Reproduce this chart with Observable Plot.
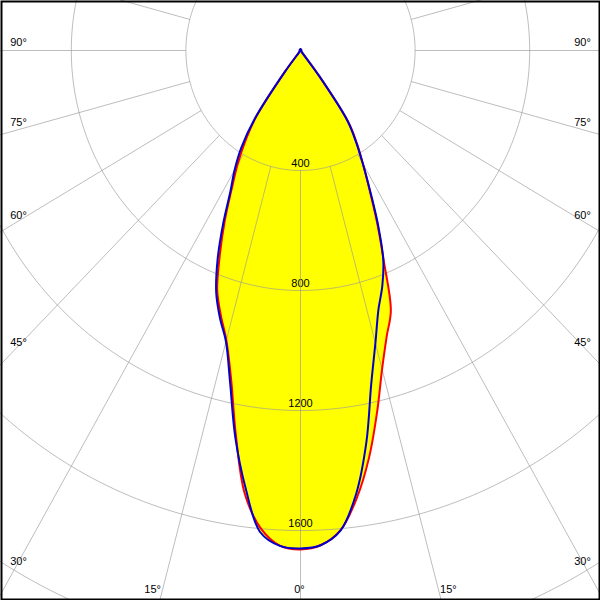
<!DOCTYPE html>
<html><head><meta charset="utf-8">
<script src="https://cdn.jsdelivr.net/npm/d3@7"></script>
<script src="https://cdn.jsdelivr.net/npm/@observablehq/plot@0.6"></script>
<style>body{margin:0;background:#fff} #chart svg{display:block;overflow:hidden}</style>
</head><body><div id="chart"></div>
<script>
// Polar angles (degrees from nadir) and luminous intensities (cd)
const gammas = [0,2.5,5,7.5,10,12.5,15,17.5,20,22.5,25,27.5,30,32.5,35,37.5,40,45,60,90,120,150,180];
const redRight  = [1663,1650,1605,1505,1378,1235,1100,1000,922,760,632,520,435,365,290,100,8,4,3,3,3,4,5];
const redLeft   = [1663,1652,1598,1490,1300,1120,1000,925,850,735,625,520,440,360,270,90,8,4,3,3,3,4,5];
const blueRight = [1660,1650,1606,1490,1325,1140,1010,905,835,755,640,525,435,360,285,110,8,4,3,3,3,4,5];
const blueLeft  = [1660,1653,1612,1470,1310,1135,1005,935,860,757,640,530,460,385,280,90,8,4,3,3,3,4,5];
const ringValues = [400,800,1200,1600,2000,2400];
const ringLabels = [400,800,1200,1600];
const angleLabels = [0,15,30,45,60,75,90];
const gridStep = 15;

// layout
const W = 600, H = 600, cx = 300, cy = 50, sx = 0.2865, sy = 0.3;
const rad = d => d * Math.PI / 180;

function curve(right, left) {
  const pts = [];
  for (let i = gammas.length - 1; i >= 0; i--) {
    const g = rad(gammas[i]);
    pts.push({x: right[i] * Math.sin(g), y: right[i] * Math.cos(g)});
  }
  for (let i = 1; i < gammas.length; i++) {
    const g = rad(gammas[i]);
    pts.push({x: -left[i] * Math.sin(g), y: left[i] * Math.cos(g)});
  }
  return pts;
}
const red = curve(redRight, redLeft);
const blue = curve(blueRight, blueLeft);

const ringPts = [];
for (const r of ringValues) for (let a = 0; a <= 360; a += 1) ringPts.push({r, x: r * Math.sin(rad(a)), y: r * Math.cos(rad(a))});
const radials = d3.range(0, 360, gridStep);

// angle label anchor: where the ray meets an inset box
const boxX = -(18 - cx) / sx, boxY = (589 - cy) / sy;
const angLab = [];
for (const side of [-1, 1]) for (const a of angleLabels) {
  if (a === 0 && side === 1) continue;
  const g = rad(a);
  let x, y, dx = 0, dy = 0;
  if (a >= 30) { x = side * boxX; y = boxX / Math.tan(g); dy = -8 * Math.sin(rad((a - 30) * 1.5)); }
  else { y = boxY; x = side * boxY * Math.tan(g); dx = side * 10 * a / 15 - (a === 0 ? 1 : 0); }
  angLab.push({x, y, dx, dy, t: a + "°"});
}

const grid = {stroke: "#9a9a9a", strokeOpacity: 0.65, strokeWidth: 1};
const chart = Plot.plot({
  width: W, height: H, margin: 0,
  style: {fontFamily: "'Liberation Sans', Arial, sans-serif", fontSize: "11px", background: "#fff"},
  x: {domain: [(0 - cx) / sx, (W - cx) / sx], range: [0, W], axis: null},
  y: {domain: [(0 - cy) / sy, (H - cy) / sy], range: [0, H], axis: null},
  marks: [
    Plot.line(red, {x: "x", y: "y", fill: "#ffff00", stroke: "none", curve: "catmull-rom"}),
    Plot.line(blue, {x: "x", y: "y", fill: "#ffff00", stroke: "none", curve: "catmull-rom"}),
    Plot.text(ringLabels, {x: 0, y: d => d, text: d => String(d), dy: -7, fill: "black", fontSize: 11}),
    Plot.line(ringPts, {x: "x", y: "y", z: "r", ...grid}),
    Plot.link(radials, {x1: a => 400 * Math.sin(rad(a)), y1: a => 400 * Math.cos(rad(a)),
                        x2: a => 3000 * Math.sin(rad(a)), y2: a => 3000 * Math.cos(rad(a)), ...grid}),
    Plot.text(angLab, {x: "x", y: "y", text: "t", fill: "black", fontSize: 11}),
    Plot.line(red, {x: "x", y: "y", stroke: "#ff0000", strokeWidth: 2, curve: "catmull-rom"}),
    Plot.line(blue, {x: "x", y: "y", stroke: "#0000cc", strokeWidth: 2, curve: "catmull-rom"}),
    Plot.frame({stroke: "black", strokeWidth: 2, inset: 1})
  ]
});
// apply per-label pixel offsets
const texts = chart.querySelectorAll("g[aria-label='text']");
const angG = texts[texts.length - 1];
angG.querySelectorAll("text").forEach((t, i) => {
  const d = angLab[i];
  const tr = t.getAttribute("transform") || "";
  t.setAttribute("transform", tr + ` translate(${d.dx},${d.dy})`);
});
document.getElementById("chart").appendChild(chart);
</script>
</body></html>
